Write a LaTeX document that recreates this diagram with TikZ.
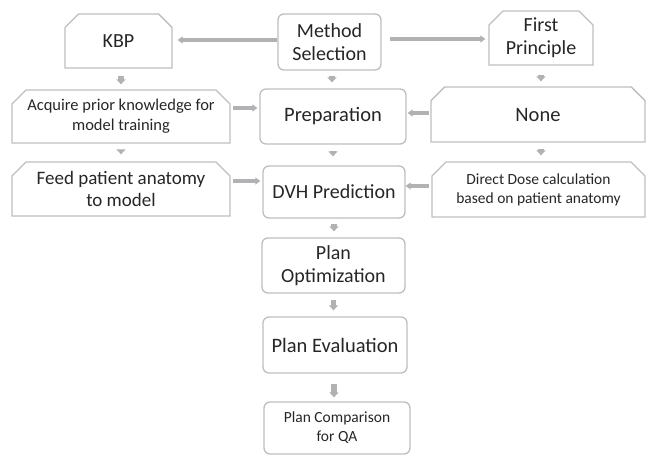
\documentclass[tikz,border=0pt]{standalone}
\usepackage{fontspec}
\setmainfont{Carlito}
\usetikzlibrary{shapes.misc,arrows.meta}
\definecolor{boxgray}{RGB}{190,190,190}
\definecolor{arrgray}{RGB}{178,178,180}
\tikzset{
  snipbox/.style={draw=boxgray,line width=1.3pt,chamfered rectangle,
    chamfered rectangle corners={north west,north east},chamfered rectangle xsep=7pt,
    chamfered rectangle ysep=7pt,inner sep=0pt,align=center,text=black!85},
  roundbox/.style={draw=boxgray,line width=1.3pt,rounded corners=6pt,
    rectangle,inner sep=0pt,align=center,text=black!85},
  sidearrow/.style={draw=arrgray,line width=4pt,-{Triangle[width=7pt,length=5pt]}},
  downarrow/.style={draw=arrgray,line width=5.5pt,-{Triangle[width=9pt,length=5pt]}}
}
\begin{document}
\begin{tikzpicture}[x=1pt,y=-1pt]
\useasboundingbox (0,0) rectangle (648,456);

\node[snipbox,minimum width=107pt,minimum height=54pt,font=\fontsize{20}{23}\selectfont] (kbp) at (118.5,41) {KBP};
\node[roundbox,minimum width=103pt,minimum height=56pt,font=\fontsize{20}{23}\selectfont] (meth) at (329.5,42) {Method\\Selection};
\node[snipbox,minimum width=104pt,minimum height=54pt,font=\fontsize{20}{23}\selectfont] (first) at (541,38) {First\\Principle};

\node[snipbox,minimum width=218pt,minimum height=53pt,font=\fontsize{16.5}{20}\selectfont] (acq) at (121,116.5) {Acquire prior knowledge for\\model training};
\node[roundbox,minimum width=146pt,minimum height=55pt,font=\fontsize{20.5}{23}\selectfont] (prep) at (333,116.5) {Preparation};
\node[snipbox,minimum width=214pt,minimum height=55pt,font=\fontsize{20.5}{23}\selectfont] (none) at (538,114.5) {None};

\node[snipbox,minimum width=218pt,minimum height=54pt,font=\fontsize{19}{22}\selectfont] (feed) at (121,189) {Feed patient anatomy\\to model};
\node[roundbox,minimum width=142pt,minimum height=52pt,font=\fontsize{20}{23}\selectfont] (dvh) at (334,192) {DVH Prediction};
\node[snipbox,minimum width=213pt,minimum height=55pt,font=\fontsize{15.5}{19}\selectfont] (direct) at (538.5,189.5) {Direct Dose calculation\\based on patient anatomy};

\node[roundbox,minimum width=143pt,minimum height=55pt,font=\fontsize{20}{23}\selectfont] (opt) at (333.5,265.5) {Plan\\Optimization};
\node[roundbox,minimum width=144pt,minimum height=56pt,font=\fontsize{20.5}{23}\selectfont] (eval) at (335,345) {Plan Evaluation};
\node[roundbox,minimum width=146pt,minimum height=52pt,font=\fontsize{15.5}{19}\selectfont] (comp) at (337,428) {Plan Comparison\\for QA};

% sideways arrows
\draw[sidearrow,shorten <=0pt,shorten >=5pt] ([yshift=2pt]meth.west) -- ([yshift=2pt]meth.west -| kbp.east);
\draw[sidearrow,shorten <=8pt,shorten >=3pt] ([yshift=3pt]meth.east) -- ([yshift=3pt]meth.east -| first.west);
\draw[sidearrow,shorten <=2pt,shorten >=2pt] ([yshift=8.5pt]acq.east) -- ([yshift=8.5pt]acq.east -| prep.west);
\draw[sidearrow,shorten <=1pt,shorten >=1pt] ([yshift=1.5pt]none.west) -- ([yshift=1.5pt]none.west -| prep.east);
\draw[sidearrow,shorten <=2pt,shorten >=2pt] ([yshift=8pt]feed.east) -- ([yshift=8pt]feed.east -| dvh.west);
\draw[sidearrow,shorten <=2pt,shorten >=0pt] ([yshift=3.5pt]direct.west) -- ([yshift=3.5pt]direct.west -| dvh.east);

% down arrows
\draw[downarrow,shorten <=7pt,shorten >=5pt] ([xshift=2.5pt]kbp.south) -- ([xshift=2.5pt]kbp.south |- acq.north);
\draw[downarrow,shorten <=5pt,shorten >=6pt] ([xshift=2.5pt]meth.south) -- ([xshift=2.5pt]meth.south |- prep.north);
\draw[downarrow,shorten <=9pt,shorten >=5pt] (first.south) -- (first.south |- none.north);
\draw[downarrow,shorten <=7pt,shorten >=7pt] (acq.south) -- (acq.south |- feed.north);
\draw[downarrow,shorten <=6pt,shorten >=9pt] (prep.south) -- (prep.south |- dvh.north);
\draw[downarrow,shorten <=6pt,shorten >=6pt] ([xshift=3pt]none.south) -- ([xshift=3pt]none.south |- direct.north);
\draw[downarrow,shorten <=5pt,shorten >=6pt] (dvh.south) -- (dvh.south |- opt.north);
\draw[downarrow,shorten <=6pt,shorten >=6pt] (opt.south) -- (opt.south |- eval.north);
\draw[downarrow,shorten <=10pt,shorten >=4pt] ([xshift=-1pt]eval.south) -- ([xshift=-1pt]eval.south |- comp.north);
\end{tikzpicture}
\end{document}
